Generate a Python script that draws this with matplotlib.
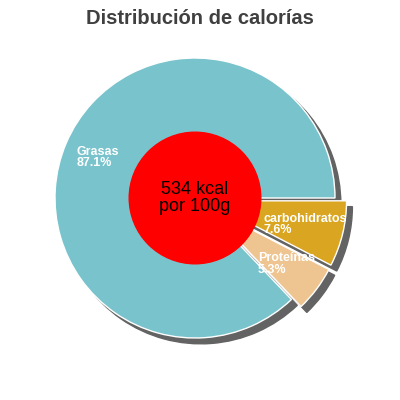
import matplotlib.pyplot as plt

plt.rcParams['font.family'] = ['Liberation Sans', 'DejaVu Sans']

labels = ['Grasas', 'Proteínas', 'carbohidratos']
pcts = [87.1, 5.3, 7.6]
colors = ['#79C3CC', '#EEC591', '#DAA520']
explode = [0, 0.085, 0.085]
kcal = 534

fig = plt.figure(figsize=(4, 4), dpi=100)
ax = fig.add_axes([0, 0, 1, 1])

wedges, _ = ax.pie(pcts, colors=colors, explode=explode, startangle=0,
                   radius=1, counterclock=True,
                   wedgeprops=dict(edgecolor='white', linewidth=1),
                   shadow={'ox': 0.03, 'oy': -0.03, 'facecolor': '#636363',
                           'edgecolor': '#636363', 'alpha': 1})

# centre disc
ax.add_patch(plt.Circle((0, 0), 0.47, color='red', zorder=5))
ax.text(0, 0, f'{kcal} kcal\npor 100g', ha='center', va='center',
        fontsize=13, zorder=6, linespacing=1.0)

# slice labels
label_pos = [(-0.843, 0.29), (0.45, -0.47), (0.486, -0.19)]
for (x, y), lab, p in zip(label_pos, labels, pcts):
    ax.text(x, y, f'{lab}\n{p}%', ha='left', va='center', color='white',
            fontsize=9, fontweight='bold', linespacing=0.95, zorder=7)

ax.set_xlim(-195 / 140, 205 / 140)
ax.set_ylim(-202 / 140, 198 / 140)
ax.set_aspect('equal')
ax.axis('off')

fig.text(0.5, 0.955, 'Distribución de calorías', ha='center', va='center',
         fontsize=14.5, fontweight='bold', color='#404040')

fig.savefig('out.png', dpi=100)
